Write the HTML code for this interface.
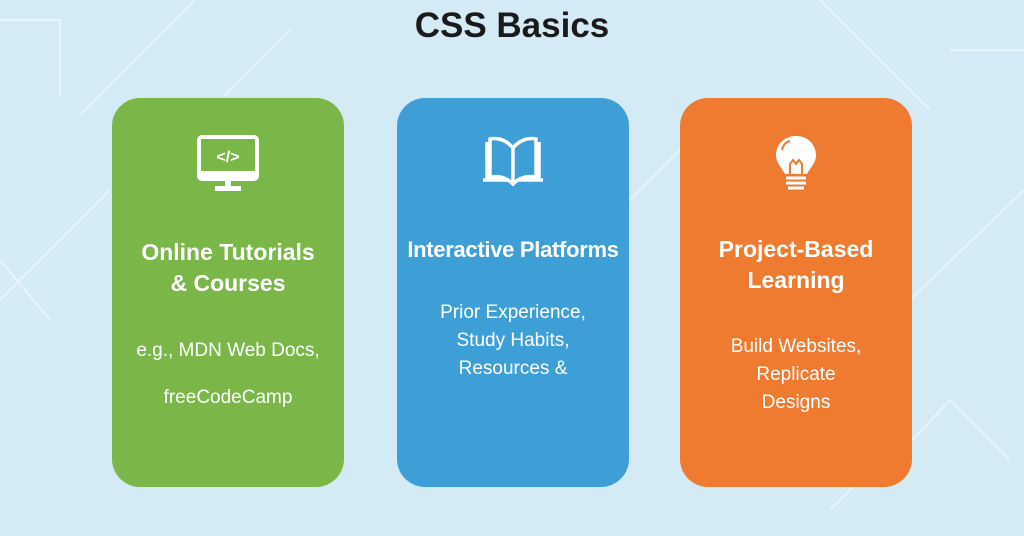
<!DOCTYPE html>
<html><head><meta charset="utf-8"><style>
body{margin:0;width:1024px;height:536px;overflow:hidden;background:#d4ebf6;font-family:"Liberation Sans",sans-serif;position:relative}
svg.bg{position:absolute;left:0;top:0}
h1{position:absolute;top:6px;left:0;width:1024px;text-align:center;margin:0;font-size:35px;font-weight:bold;color:#1a1a1a}
.card{position:absolute;top:98px;width:232px;height:389px;border-radius:28px;color:#fff;text-align:center}
.t{position:absolute;left:0;width:100%;font-weight:bold;font-size:23px;line-height:31px}
.d{position:absolute;left:0;width:100%;font-size:19px;line-height:28px}
.ic{position:absolute;left:50%;transform:translateX(-50%);top:36px}
</style></head><body>
<svg class="bg" width="1024" height="536">
<g stroke="#e8f5fb" stroke-width="2" fill="none">
<polyline points="0,20 60,20 60,95"/>
<line x1="80" y1="115" x2="195" y2="0"/>
<line x1="225" y1="95" x2="290" y2="30"/>
<line x1="0" y1="300" x2="110" y2="190"/>
<line x1="0" y1="260" x2="50" y2="320"/>
<line x1="630" y1="200" x2="700" y2="130"/>
<line x1="820" y1="0" x2="930" y2="110"/>
<line x1="910" y1="300" x2="1024" y2="190"/>
<polyline points="912,440 950,400 1010,460"/>
<line x1="830" y1="510" x2="900" y2="440"/>
<line x1="950" y1="50" x2="1024" y2="50"/>
</g></svg>
<h1>CSS Basics</h1>
<div class="card" style="left:112px;background:#7ab648">
<svg class="ic" width="66" height="62" viewBox="0 0 66 62"><rect x="4" y="3" width="58" height="42" rx="3" fill="none" stroke="#fff" stroke-width="4"/><path d="M4 37h58v8H4z" fill="#fff"/><rect x="20" y="52" width="26" height="5" fill="#fff"/><rect x="30" y="45" width="6" height="8" fill="#fff"/><text x="33" y="28" font-size="16" font-weight="bold" fill="#fff" text-anchor="middle" font-family="Liberation Sans">&lt;/&gt;</text></svg>
<div class="t" style="top:139px">Online Tutorials<br>&amp; Courses</div>
<div class="d" style="top:239px">e.g., MDN Web Docs,</div>
<div class="d" style="top:286px">freeCodeCamp</div>
</div>
<div class="card" style="left:397px;background:#3d9fd5">
<svg class="ic" width="68" height="54" viewBox="0 0 68 54"><g fill="none" stroke="#fff" stroke-width="3.5"><path d="M8 8v38M60 8v38"/><path d="M34 14C26 4 16 4 11 5v38c6-1 15-1 23 7c8-8 17-8 23-7V5c-5-1-15-1-23 9z"/><path d="M34 14v36"/><path d="M4 46h26M38 46h26"/></g></svg>
<div class="t" style="top:136px;font-size:22px;letter-spacing:-0.3px">Interactive Platforms</div>
<div class="d" style="top:201px">Prior Experience,<br>Study Habits,<br>Resources &amp;</div>
</div>
<div class="card" style="left:680px;background:#ee7b30">
<svg class="ic" width="46" height="62" viewBox="0 0 46 62" style="top:36px"><path d="M23 2C11 2 3 11 3 21c0 8 6 13 9 19h22c3-6 9-11 9-19C43 11 35 2 23 2z" fill="#fff"/><path d="M17 40V30l3-4 3 4 3-4 3 4v10" fill="none" stroke="#ee7b30" stroke-width="2"/><g stroke="#fff" stroke-width="3"><path d="M13 44h20M13 49h20M15 54h16"/></g><path d="M9 16c1-5 4-8 8-9" stroke="#ee7b30" stroke-width="2" fill="none"/></svg>
<div class="t" style="top:136px">Project-Based<br>Learning</div>
<div class="d" style="top:235px">Build Websites,<br>Replicate<br>Designs</div>
</div>
</body></html>
